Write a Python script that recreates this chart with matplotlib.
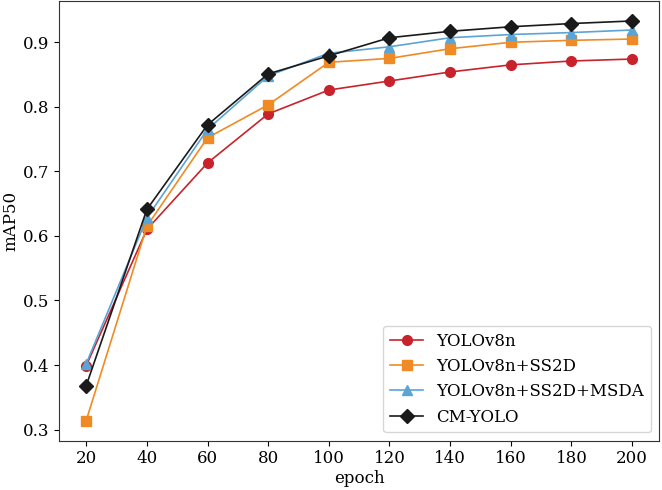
import numpy as np
import matplotlib
matplotlib.use('Agg')
import matplotlib.pyplot as plt

plt.rcParams['font.family'] = 'DejaVu Serif'
plt.rcParams['font.size'] = 12

epoch = [20, 40, 60, 80, 100, 120, 140, 160, 180, 200]
yolov8n = [0.399, 0.610, 0.713, 0.789, 0.826, 0.840, 0.854, 0.865, 0.871, 0.874]
ss2d = [0.314, 0.615, 0.752, 0.803, 0.869, 0.875, 0.890, 0.900, 0.903, 0.905]
msda = [0.402, 0.628, 0.765, 0.848, 0.883, 0.893, 0.907, 0.912, 0.915, 0.919]
cmyolo = [0.368, 0.641, 0.772, 0.851, 0.879, 0.907, 0.917, 0.924, 0.929, 0.933]

fig, ax = plt.subplots(figsize=(6.62, 4.9), dpi=100)
ax.plot(epoch, yolov8n, marker='o', color='#c8232c', lw=1.2, ms=7, label='YOLOv8n')
ax.plot(epoch, ss2d, marker='s', color='#f08a24', lw=1.2, ms=7, label='YOLOv8n+SS2D')
ax.plot(epoch, msda, marker='^', color='#5aa5d5', lw=1.2, ms=7, label='YOLOv8n+SS2D+MSDA')
ax.plot(epoch, cmyolo, marker='D', color='#1a1a1a', lw=1.2, ms=7, label='CM-YOLO')

for s in ax.spines.values():
    s.set_color('#333333')
ax.set_xticks(epoch)
ax.set_xlabel('epoch', fontsize=12, labelpad=2)
ax.set_ylabel('mAP50', fontsize=12, labelpad=2)
ax.legend(loc='lower right')
fig.subplots_adjust(left=0.089, right=0.996, top=0.998, bottom=0.101)
fig.savefig('out.png')
